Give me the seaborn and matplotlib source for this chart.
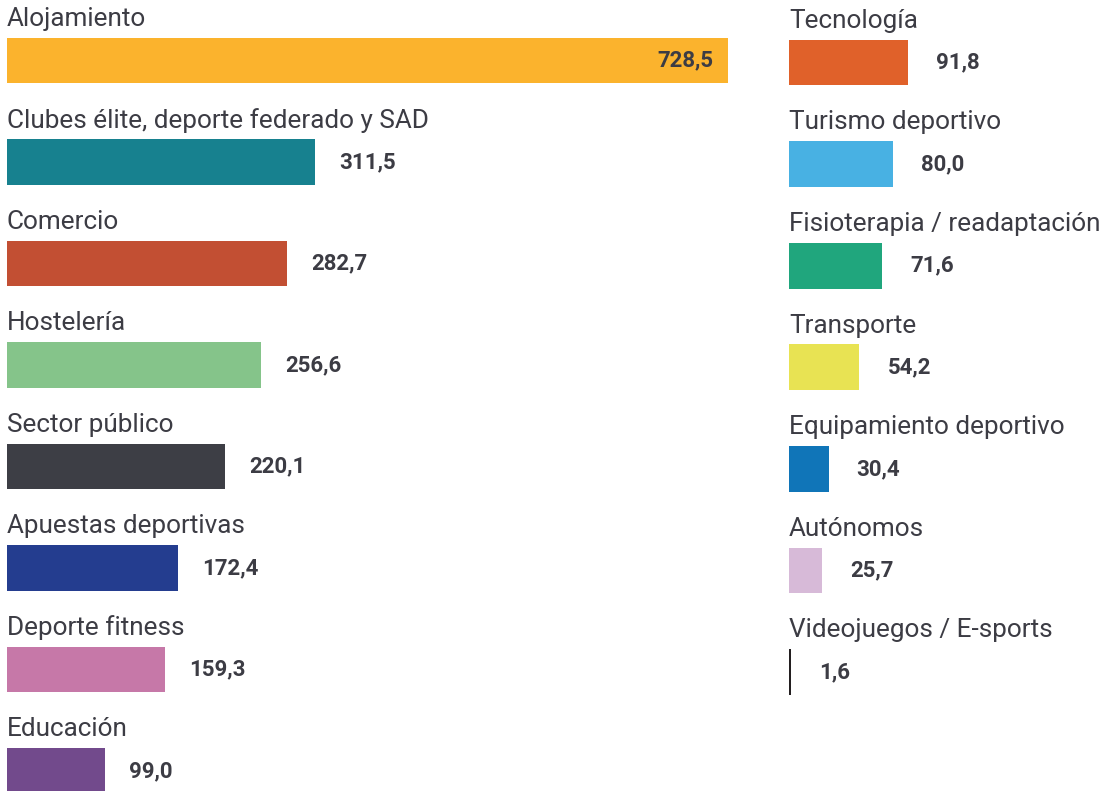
import matplotlib
matplotlib.use("Agg")
import matplotlib.pyplot as plt
import seaborn as sns
import pandas as pd

left_categories = ["Alojamiento", "Clubes élite, deporte federado y SAD", "Comercio", "Hostelería",
                   "Sector público", "Apuestas deportivas", "Deporte fitness", "Educación"]
left_values = [728.5, 311.5, 282.7, 256.6, 220.1, 172.4, 159.3, 99.0]
left_colors = ["#FBB32D", "#17818F", "#C24F33", "#85C48A", "#3D3E45", "#243D8F", "#C678A8", "#724A8C"]

right_categories = ["Tecnología", "Turismo deportivo", "Fisioterapia / readaptación", "Transporte",
                    "Equipamiento deportivo", "Autónomos", "Videojuegos / E-sports"]
right_values = [91.8, 80.0, 71.6, 54.2, 30.4, 25.7, 1.6]
right_colors = ["#E0612A", "#48B1E3", "#20A67D", "#E8E353", "#1075B8", "#D7BAD8", "#231F20"]

sns.set_theme(style="white")
plt.rcParams['font.family'] = ['Roboto', 'DejaVu Sans']

TXT = "#3c3c44"
W, H = 1105, 791
fig = plt.figure(figsize=(W / 100, H / 100), dpi=100)


def fmt(v):
    return f"{v:.1f}".replace(".", ",")


def draw(ax, cats, vals, cols, px_per_unit, width_px, y0_px, step_px, off_px, inside_first=False):
    df = pd.DataFrame({"cat": cats, "val": vals})
    sns.barplot(data=df, x="val", y="cat", hue="cat", palette=cols, order=cats, hue_order=cats,
                width=0.45, legend=False, ax=ax, saturation=1, linewidth=0, edgecolor="none")
    ax.set_xlim(0, width_px / px_per_unit)
    top = -y0_px / step_px
    bottom = (H - y0_px) / step_px
    ax.set_ylim(bottom, top)
    ax.axis("off")
    off = off_px / px_per_unit
    for i, (c, v) in enumerate(zip(cats, vals)):
        ax.text(0, i - 0.41, c, ha="left", va="center", fontsize=18.8, color=TXT)
        if inside_first and i == 0:
            ax.text(v - 15 / px_per_unit, i, fmt(v), ha="right", va="center", fontsize=16,
                    fontweight="bold", color=TXT)
        else:
            ax.text(v + off, i, fmt(v), ha="left", va="center", fontsize=16,
                    fontweight="bold", color=TXT)


# left column
lx0, lw = 7, 773
axl = fig.add_axes([lx0 / W, 0, lw / W, 1])
draw(axl, left_categories, left_values, left_colors, 0.99, lw, 60.5, 101.5, 24, inside_first=True)

# right column
rx0, rw = 789, W - 789
axr = fig.add_axes([rx0 / W, 0, rw / W, 1])
draw(axr, right_categories, right_values, right_colors, 1.3, rw, 62.5, 101.6, 28)

fig.savefig("out.png", dpi=100)
